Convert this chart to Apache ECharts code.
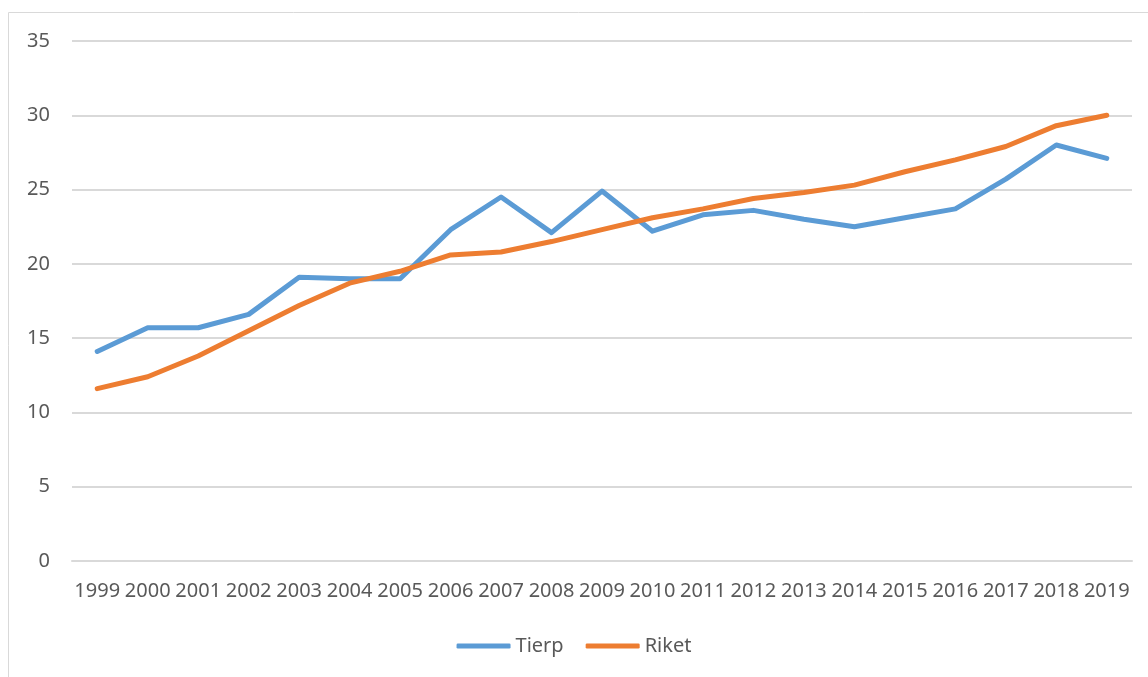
<!DOCTYPE html>
<html>
<head>
<meta charset="utf-8">
<script src="https://cdn.jsdelivr.net/npm/echarts@6/dist/echarts.min.js"></script>
<style>
  html, body { margin: 0; padding: 0; background: #fff; }
  #chart { width: 1148px; height: 677px; }
</style>
</head>
<body>
<div id="chart"></div>
<script>
  // år och värden
  const years = ['1999', '2000', '2001', '2002', '2003', '2004', '2005', '2006', '2007', '2008', '2009',
    '2010', '2011', '2012', '2013', '2014', '2015', '2016', '2017', '2018', '2019']
  const tierp = [14.1, 15.7, 15.7, 16.6, 19.1, 19.0, 19.0, 22.3, 24.5, 22.1, 24.9,
    22.2, 23.3, 23.6, 23.0, 22.5, 23.1, 23.7, 25.7, 28.0, 27.1]
  const riket = [11.6, 12.4, 13.8, 15.5, 17.2, 18.7, 19.5, 20.6, 20.8, 21.5, 22.3,
    23.1, 23.7, 24.4, 24.8, 25.3, 26.2, 27.0, 27.9, 29.3, 30.0]
  const yTicks = [0, 5, 10, 15, 20, 25, 30, 35]

  const font = 'Noto Sans'
  const textColor = '#595959'
  const gridColor = '#d9d9d9'

  const chart = echarts.init(document.getElementById('chart'))
  chart.setOption({
    animation: false,
    textStyle: { fontFamily: font },
    graphic: [{
      type: 'rect',
      shape: { x: 8.5, y: 12.5, width: 1160, height: 700 },
      style: { fill: 'none', stroke: gridColor, lineWidth: 1 },
      silent: true
    }],
    grid: { left: 72, right: 16, top: 41, bottom: 116 },
    legend: {
      bottom: 16,
      left: 'center',
      itemWidth: 54,
      itemHeight: 5,
      itemGap: 22,
      icon: 'roundRect',
      textStyle: { color: textColor, fontSize: 20, fontFamily: font },
      data: ['Tierp', 'Riket']
    },
    xAxis: {
      type: 'category',
      data: years,
      boundaryGap: true,
      axisLine: { lineStyle: { color: gridColor, width: 2 } },
      axisTick: { show: false },
      axisLabel: { color: textColor, fontSize: 20, margin: 20, interval: 0 }
    },
    yAxis: {
      type: 'value',
      min: yTicks[0],
      max: yTicks[yTicks.length - 1],
      interval: 5,
      axisLine: { show: false },
      axisTick: { show: false },
      axisLabel: { color: textColor, fontSize: 20, margin: 22 },
      splitLine: { lineStyle: { color: gridColor, width: 2 } }
    },
    series: [
      {
        name: 'Tierp',
        type: 'line',
        data: tierp,
        symbol: 'none',
        color: '#5b9bd5',
        lineStyle: { width: 5, cap: 'round', join: 'round' }
      },
      {
        name: 'Riket',
        type: 'line',
        data: riket,
        symbol: 'none',
        color: '#ed7d31',
        lineStyle: { width: 5, cap: 'round', join: 'round' }
      }
    ]
  })
</script>
</body>
</html>
